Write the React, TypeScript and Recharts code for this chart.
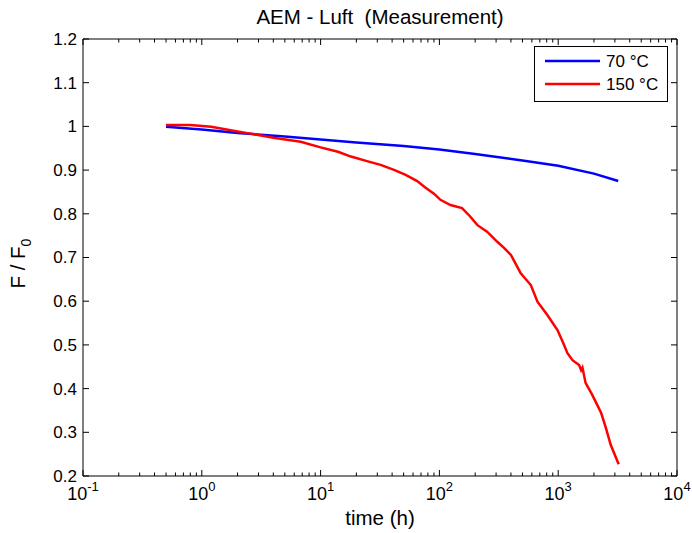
import { Legend, Line, LineChart, XAxis, YAxis } from "recharts";

// 70 °C measurement
const time70 = [0.5, 1, 2, 5, 10, 20, 50, 100, 200, 500, 1000, 2000, 3200];
const ratio70 = [0.999, 0.993, 0.985, 0.977, 0.97, 0.963, 0.955, 0.947, 0.937, 0.922, 0.91, 0.892, 0.875];

// 150 °C measurement
const time150 = [
  0.5, 0.8, 1.2, 1.7, 2.5, 4, 6.8, 10, 14, 18, 25, 32, 42, 52, 65, 76, 90, 102, 124, 155, 180, 209,
  252, 307, 350, 400, 440, 484, 588, 669, 813, 986, 1100, 1197, 1319, 1500, 1560, 1600, 1700, 1940,
  2300, 2520, 2770, 3230,
];
const ratio150 = [
  1.003, 1.003, 0.999, 0.992, 0.984, 0.974, 0.965, 0.952, 0.942, 0.931, 0.92, 0.912, 0.9, 0.889,
  0.875, 0.86, 0.846, 0.832, 0.82, 0.813, 0.795, 0.774, 0.759, 0.736, 0.722, 0.706, 0.685, 0.664,
  0.637, 0.599, 0.568, 0.534, 0.505, 0.481, 0.465, 0.454, 0.442, 0.448, 0.413, 0.385, 0.344, 0.31,
  0.271, 0.227,
];

const seriesNames = ["70 °C", "150 °C"];

const xTicks = [
  0.1, 0.2, 0.3, 0.4, 0.5, 0.6, 0.7, 0.8, 0.9,
  1, 2, 3, 4, 5, 6, 7, 8, 9,
  10, 20, 30, 40, 50, 60, 70, 80, 90,
  100, 200, 300, 400, 500, 600, 700, 800, 900,
  1000, 2000, 3000, 4000, 5000, 6000, 7000, 8000, 9000,
  10000,
];
const yTicks = [0.2, 0.3, 0.4, 0.5, 0.6, 0.7, 0.8, 0.9, 1, 1.1, 1.2];

const data70 = time70.map((t, i) => ({ t, f: ratio70[i] }));
const data150 = time150.map((t, i) => ({ t, f: ratio150[i] }));

const FONT = "'Liberation Sans', Arial, Helvetica, sans-serif";

const isMajor = (v: number) => {
  const e = Math.log10(v);
  return Math.abs(e - Math.round(e)) < 1e-6;
};

const BottomTick = ({ x, y, payload }: any) => {
  const v = payload.value;
  const major = isMajor(v);
  return (
    <g>
      <line x1={x} x2={x} y1={y} y2={y - (major ? 6 : 3.5)} stroke="#000" />
      {major && (
        <text x={x} y={y + 24} textAnchor="middle" fontFamily={FONT} fontSize={18} fill="#000">
          10
          <tspan dy={-9} fontSize={13}>
            {Math.round(Math.log10(v))}
          </tspan>
        </text>
      )}
    </g>
  );
};

const TopTick = ({ x, y, payload }: any) => (
  <line x1={x} x2={x} y1={y} y2={y + (isMajor(payload.value) ? 6 : 3.5)} stroke="#000" />
);

const LeftTick = ({ x, y, payload }: any) => (
  <g>
    <line x1={x} x2={x + 6} y1={y} y2={y} stroke="#000" />
    <text x={x - 6} y={y} dy="0.35em" textAnchor="end" fontFamily={FONT} fontSize={17} fill="#000">
      {String(Math.round(payload.value * 10) / 10)}
    </text>
  </g>
);

const RightTick = ({ x, y }: any) => <line x1={x} x2={x - 6} y1={y} y2={y} stroke="#000" />;

const LegendBox = ({ payload }: any) => {
  const items = [...(payload || [])].sort(
    (a: any, b: any) => seriesNames.indexOf(a.value) - seriesNames.indexOf(b.value)
  );
  return (
    <svg width={134} height={56} style={{ display: "block" }}>
      <rect x={0.5} y={0.5} width={133} height={55} fill="#fff" stroke="#000" />
      {items.map((p: any, i: number) => (
        <g key={p.value}>
          <line x1={11} x2={66} y1={15 + i * 23} y2={15 + i * 23} stroke={p.color} strokeWidth={2.5} />
          <text x={72} y={15 + i * 23} dy="0.35em" fontFamily={FONT} fontSize={17} fill="#000">
            {p.value}
          </text>
        </g>
      ))}
    </svg>
  );
};

export default function App() {
  return (
    <div style={{ position: "absolute", left: 0, top: 0, width: 692, height: 533, background: "#fff" }}>
      <LineChart width={692} height={533} margin={{ top: 38, right: 14, bottom: 56, left: 82 }}>
        <XAxis
          xAxisId="x"
          dataKey="t"
          type="number"
          scale="log"
          domain={[0.1, 10000]}
          allowDataOverflow
          ticks={xTicks}
          interval={0}
          height={1}
          tickSize={0}
          tickMargin={0}
          tickLine={false}
          axisLine={{ stroke: "#000" }}
          tick={<BottomTick />}
        />
        <XAxis
          xAxisId="top"
          orientation="top"
          dataKey="t"
          type="number"
          scale="log"
          domain={[0.1, 10000]}
          allowDataOverflow
          ticks={xTicks}
          interval={0}
          height={1}
          tickSize={0}
          tickMargin={0}
          tickLine={false}
          axisLine={{ stroke: "#000" }}
          tick={<TopTick />}
        />
        <YAxis
          yAxisId="l"
          type="number"
          domain={[0.2, 1.2]}
          allowDataOverflow
          ticks={yTicks}
          interval={0}
          width={1}
          tickSize={0}
          tickMargin={0}
          tickLine={false}
          axisLine={{ stroke: "#000" }}
          tick={<LeftTick />}
        />
        <YAxis
          yAxisId="r"
          orientation="right"
          type="number"
          domain={[0.2, 1.2]}
          allowDataOverflow
          ticks={yTicks}
          interval={0}
          width={1}
          tickSize={0}
          tickMargin={0}
          tickLine={false}
          axisLine={{ stroke: "#000" }}
          tick={<RightTick />}
        />
        <Legend
          layout="vertical"
          align="center"
          verticalAlign="middle"
          wrapperStyle={{ position: "absolute", left: 534, top: 46, width: 134, height: 56 }}
          content={<LegendBox />}
        />
        <Line
          xAxisId="x"
          yAxisId="l"
          data={data70}
          dataKey="f"
          name={seriesNames[0]}
          stroke="#0000ff"
          strokeWidth={2.5}
          dot={false}
          isAnimationActive={false}
        />
        <Line
          xAxisId="x"
          yAxisId="l"
          data={data150}
          dataKey="f"
          name={seriesNames[1]}
          stroke="#ff0000"
          strokeWidth={2.5}
          dot={false}
          isAnimationActive={false}
        />
      </LineChart>
      <div
        style={{
          position: "absolute", left: 83, width: 594, top: 5, textAlign: "center",
          fontFamily: FONT, fontSize: 20.5, lineHeight: "24px", whiteSpace: "pre",
        }}
      >
        {"AEM - Luft  (Measurement)"}
      </div>
      <div
        style={{
          position: "absolute", left: 83, width: 594, top: 506, textAlign: "center",
          fontFamily: FONT, fontSize: 20.5, lineHeight: "24px",
        }}
      >
        time (h)
      </div>
      <div style={{ position: "absolute", left: 22, top: 260, width: 0, height: 0 }}>
        <div
          style={{
            position: "absolute", left: -60, top: -12, width: 120, textAlign: "center",
            transform: "rotate(-90deg)", fontFamily: FONT, fontSize: 20.5, lineHeight: "24px",
          }}
        >
          F / F<sub style={{ fontSize: 14 }}>0</sub>
        </div>
      </div>
    </div>
  );
}
